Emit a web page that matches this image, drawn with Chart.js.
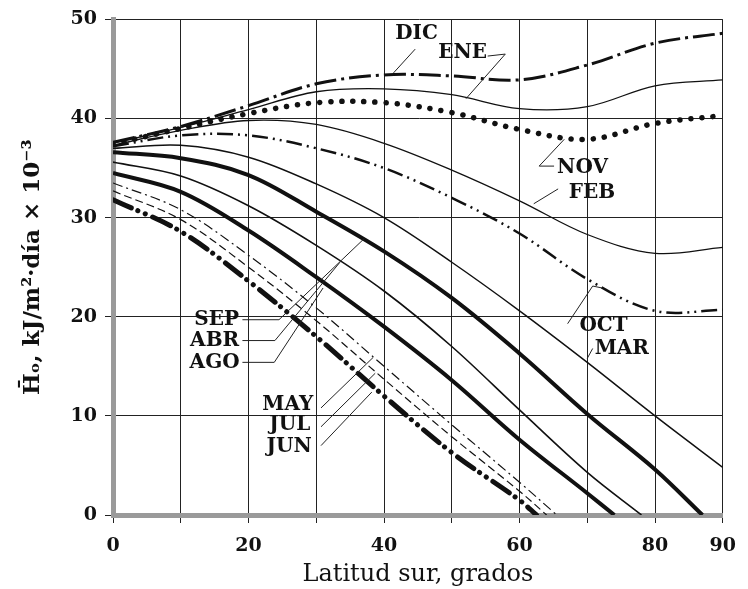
<!DOCTYPE html>
<html>
<head>
<meta charset="utf-8">
<script src="https://cdn.jsdelivr.net/npm/chart.js@4.4.1/dist/chart.umd.min.js"></script>
<style>
  html, body { margin: 0; padding: 0; background: #fff; }
  #wrap { width: 748px; height: 589px; }
</style>
</head>
<body>
<div id="wrap"><canvas id="chart" width="748" height="589"></canvas></div>
<script>
// latitud sur (grados) y radiación extraterrestre media diaria, kJ/m2·día x 10^-3
const latitudes = [0, 10, 20, 30, 40, 50, 60, 70, 80, 90]
const yTicks = [0, 10, 20, 30, 40, 50]

const dic = [37.6, 39.2, 41.3, 43.5, 44.4, 44.3, 43.9, 45.4, 47.6, 48.6]
const ene = [37.5, 39.1, 40.9, 42.7, 43.0, 42.4, 41.0, 41.2, 43.3, 43.9]
const nov = [37.4, 39.0, 40.5, 41.6, 41.6, 40.6, 38.9, 37.9, 39.5, 40.3]
const feb = [37.3, 38.8, 39.8, 39.4, 37.5, 34.8, 31.7, 28.3, 26.4, 27.0]
const oct = [37.2, 38.3, 38.3, 37.0, 35.0, 32.0, 28.4, 23.8, 20.6, 20.7]
const mar = [37.0, 37.3, 36.1, 33.4, 30.0, 25.5, 20.6, 15.4, 10.0, 4.8]
const sep = [36.6, 36.0, 34.3, 30.6, 26.6, 21.9, 16.3, 10.2, 4.6, null]
const abr = [35.6, 34.2, 31.2, 27.2, 22.6, 17.0, 10.6, 4.3, null, null]
const ago = [34.5, 32.6, 28.7, 24.0, 19.0, 13.6, 7.6, 2.2, null, null]
const may = [33.5, 30.8, 26.2, 20.9, 15.0, 9.1, 3.3, null, null, null]
const jul = [32.7, 29.8, 25.0, 19.6, 13.7, 7.9, 2.4, null, null, null]
const jun = [31.8, 28.6, 23.6, 18.0, 12.0, 6.3, 1.5, null, null, null]

// latitud donde la curva llega a cero
const zeroLat = { SEP: 87, ABR: 78, AGO: 74, MAY: 65.5, JUL: 64, JUN: 62.5 }

const FONT = "'DejaVu Serif', 'Liberation Serif', serif"

function series(vals, end) {
  const pts = []
  latitudes.forEach((x, i) => {
    if (vals[i] !== null) pts.push({ x: x, y: vals[i] })
  })
  if (end) pts.push({ x: end, y: 0 })
  return pts
}

function ds(label, vals, width, dash, cap) {
  return {
    label: label,
    data: series(vals, zeroLat[label]),
    borderColor: "#111",
    borderWidth: width,
    borderDash: dash || [],
    borderCapStyle: cap || "butt",
    pointRadius: 0,
    fill: false,
    tension: 0.35,
  }
}

// etiquetas de las curvas, con su línea guía (en unidades de los ejes)
const curveLabels = [
  { text: "DIC", at: [44.8, 48.5], leader: [[44.6, 47.0], [41.4, 44.6]] },
  { text: "ENE", at: [51.6, 46.6], leader: [[55.3, 46.3], [57.9, 46.5], [52.1, 42.0]] },
  { text: "NOV", at: [69.3, 35.0], leader: [[66.6, 37.9], [62.9, 35.2], [65.1, 35.2]] },
  { text: "FEB", at: [70.7, 32.5], leader: [[65.7, 32.9], [62.1, 31.4]] },
  { text: "OCT", at: [72.4, 19.1], leader: [[67.1, 19.3], [70.8, 23.1], [72.2, 22.9]] },
  { text: "MAR", at: [75.1, 16.8], leader: [[70.0, 15.8], [70.8, 16.8]] },
  { text: "SEP", at: [15.3, 19.7], leader: [[19.1, 19.7], [24.5, 19.7], [37.1, 27.9]] },
  { text: "ABR", at: [15.0, 17.6], leader: [[19.1, 17.6], [23.9, 17.6], [33.5, 25.5]] },
  { text: "AGO", at: [15.0, 15.4], leader: [[19.1, 15.4], [23.8, 15.4], [31.0, 22.9]] },
  { text: "MAY", at: [25.8, 11.1], leader: [[30.7, 10.8], [38.4, 15.9]] },
  { text: "JUL", at: [26.1, 9.1], leader: [[30.7, 8.9], [38.7, 14.3]] },
  { text: "JUN", at: [26.0, 6.9], leader: [[30.7, 7.0], [38.2, 12.4]] },
]

const labelPlugin = {
  id: "curveLabels",
  afterDatasetsDraw(chart) {
    const { ctx, scales } = chart
    const xs = scales.x
    const ys = scales.y
    ctx.save()
    ctx.strokeStyle = "#222"
    ctx.lineWidth = 1
    curveLabels.forEach((l) => {
      ctx.beginPath()
      l.leader.forEach((p, i) => {
        const px = xs.getPixelForValue(p[0])
        const py = ys.getPixelForValue(p[1])
        if (i === 0) ctx.moveTo(px, py)
        else ctx.lineTo(px, py)
      })
      ctx.stroke()
      ctx.fillStyle = "#111"
      ctx.font = "bold 20px " + FONT
      ctx.textAlign = "center"
      ctx.textBaseline = "middle"
      ctx.fillText(l.text, xs.getPixelForValue(l.at[0]), ys.getPixelForValue(l.at[1]))
    })
    ctx.restore()
  },
}

new Chart(document.getElementById("chart"), {
  type: "line",
  data: {
    datasets: [
      ds("DIC", dic, 3, [22, 5, 3, 5]),
      ds("ENE", ene, 1.3),
      ds("NOV", nov, 5.5, [0.1, 11], "round"),
      ds("FEB", feb, 1.3),
      ds("OCT", oct, 2.5, [16, 5, 2, 5, 2, 5]),
      ds("MAR", mar, 1.5),
      ds("SEP", sep, 4),
      ds("ABR", abr, 1.6),
      ds("AGO", ago, 4),
      ds("MAY", may, 1.2, [10, 4, 2, 4]),
      ds("JUL", jul, 1.2, [8, 4]),
      ds("JUN", jun, 5, [20, 7, 0.1, 8, 0.1, 8], "round"),
    ],
  },
  options: {
    responsive: false,
    animation: false,
    layout: { padding: { left: 0, right: 23, top: 18, bottom: 0 } },
    plugins: { legend: { display: false }, tooltip: { enabled: false } },
    scales: {
      x: {
        type: "linear",
        min: 0,
        max: 90,
        afterFit: (s) => { s.height = 74 },
        afterBuildTicks: (s) => { s.ticks = latitudes.map((v) => ({ value: v })) },
        border: { color: "#9a9a9a", width: 5 },
        grid: { color: "#222", lineWidth: 1, drawTicks: true, tickLength: 8, tickColor: "#222" },
        ticks: {
          autoSkip: false,
          maxRotation: 0,
          padding: 12,
          color: "#111",
          font: { family: FONT, size: 19, weight: "bold" },
          callback: (v) => (v % 20 === 0 || v === 90 ? v : ""),
        },
        title: {
          display: true,
          text: "Latitud sur, grados",
          color: "#111",
          font: { family: FONT, size: 24 },
          padding: { top: 0, bottom: 0 },
        },
      },
      y: {
        min: 0,
        max: 50,
        afterFit: (s) => { s.width = 113 },
        afterBuildTicks: (s) => { s.ticks = yTicks.map((v) => ({ value: v })) },
        border: { color: "#9a9a9a", width: 5 },
        grid: { color: "#222", lineWidth: 1, drawTicks: true, tickLength: 8, tickColor: "#222" },
        ticks: {
          padding: 8,
          color: "#111",
          font: { family: FONT, size: 19, weight: "bold" },
        },
        title: {
          display: true,
          text: "H\u0304\u2092, kJ/m\u00b2\u00b7d\u00eda \u00d7 10\u207b\u00b3",
          color: "#111",
          font: { family: FONT, size: 23, weight: "bold" },
          padding: { top: 19, bottom: 0 },
        },
      },
    },
  },
  plugins: [labelPlugin],
})
</script>
</body>
</html>
